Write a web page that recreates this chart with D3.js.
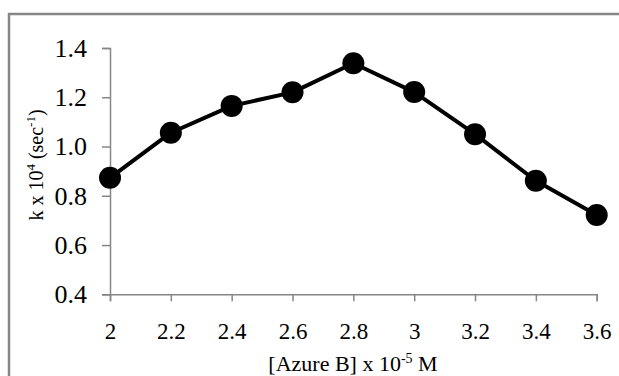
<!DOCTYPE html>
<html><head><meta charset="utf-8">
<script src="https://cdn.jsdelivr.net/npm/d3@7"></script>
<style>html,body{margin:0;padding:0;background:#fff;}svg{display:block;}</style>
</head><body>
<script>
const xValues = [2, 2.2, 2.4, 2.6, 2.8, 3, 3.2, 3.4, 3.6];
const kValues = [0.873, 1.056, 1.165, 1.22, 1.338, 1.221, 1.05, 0.861, 0.722];
const xTicks = [2, 2.2, 2.4, 2.6, 2.8, 3, 3.2, 3.4, 3.6];
const yTicks = [0.4, 0.6, 0.8, 1.0, 1.2, 1.4];

const W = 619, H = 376;
const svg = d3.select("body").append("svg").attr("width", W).attr("height", H);
const font = "Liberation Serif";

svg.append("rect").attr("x", 9).attr("y", 14).attr("width", W + 20).attr("height", H + 20)
  .attr("fill", "#fff").attr("stroke", "#868686").attr("stroke-width", 2.5);

const x = d3.scaleLinear().domain([2, 3.6]).range([110, 596.7]);
const y = d3.scaleLinear().domain([0.4, 1.4]).range([294.3, 48]);

const axisColor = "#868686";
const gx = svg.append("g").attr("transform", `translate(0,${y(0.4)})`)
  .call(d3.axisBottom(x).tickValues(xTicks).tickSize(7).tickPadding(21).tickFormat(d => String(+d.toFixed(1))));
const gy = svg.append("g").attr("transform", `translate(${x(2)},0)`)
  .call(d3.axisLeft(y).tickValues(yTicks).tickSize(8).tickPadding(15).tickFormat(d3.format(".1f")));
gx.attr("font-family", font).attr("font-size", 23);
gy.attr("font-family", font).attr("font-size", 26);
[gx, gy].forEach(g => {
  g.select(".domain").attr("stroke", axisColor).attr("stroke-width", 1.5);
  g.selectAll(".tick line").attr("stroke", axisColor).attr("stroke-width", 1.5);
  g.selectAll(".tick text").attr("fill", "#000");
});

const pts = xValues.map((v, i) => [v, kValues[i]]);
svg.append("path").datum(pts)
  .attr("fill", "none").attr("stroke", "#000").attr("stroke-width", 4).attr("stroke-linejoin", "round")
  .attr("d", d3.line().x(d => x(d[0])).y(d => y(d[1])));
svg.selectAll("circle.pt").data(pts).enter().append("circle")
  .attr("class", "pt").attr("cx", d => x(d[0])).attr("cy", d => y(d[1])).attr("r", 11).attr("fill", "#000");

// X title
const xt = svg.append("text").attr("x", 353).attr("y", 371).attr("text-anchor", "middle")
  .attr("font-family", font).attr("font-size", 22).attr("fill", "#000");
xt.append("tspan").text("[Azure B] x 10");
xt.append("tspan").attr("dy", -8).attr("font-size", 14).text("-5");
xt.append("tspan").attr("dy", 8).text(" M");

// Y title
const yt = svg.append("text").attr("transform", `translate(43,165) rotate(-90)`).attr("text-anchor", "middle")
  .attr("font-family", font).attr("font-size", 20).attr("fill", "#000");
yt.append("tspan").text("k x 10");
yt.append("tspan").attr("dy", -8).attr("font-size", 13).text("4");
yt.append("tspan").attr("dy", 8).text(" (sec");
yt.append("tspan").attr("dy", -8).attr("font-size", 13).text("-1");
yt.append("tspan").attr("dy", 8).text(")");
</script>
</body></html>
